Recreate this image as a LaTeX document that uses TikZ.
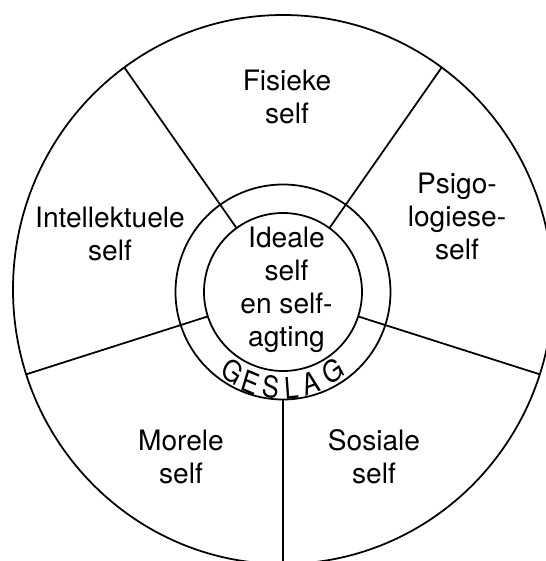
\documentclass[tikz,border=0pt]{standalone}
\usepackage{fontspec}
\setmainfont{TeX Gyre Heros}
\usepackage{tikz}

\tikzset{
  lbl/.style = {align=center, inner sep=0pt, font=\fontsize{16}{18.8}\selectfont},
  ltr/.style = {inner sep=0pt, xscale=0.85, font=\fontsize{17}{17}\selectfont}
}

\begin{document}
\begin{tikzpicture}[line width = 1pt]
\useasboundingbox (-5.66,-5.38) rectangle (5.26,5.84);
% rings
\draw (0,0.05) ellipse (5.40 and 5.49);
\draw (0,0) circle (2.15);
\draw (0,0) circle (1.58);
% spokes
\draw (54:1.58) -- ([yshift=0.5mm]54:5.40 and 5.49);
\draw (126:1.58) -- ([yshift=0.5mm]126:5.40 and 5.49);
\draw (198:1.58) -- ([yshift=0.5mm]198:5.40 and 5.49);
\draw (342:1.58) -- ([yshift=0.5mm]342:5.40 and 5.49);
\draw (270:2.15) -- ([yshift=0.5mm]270:5.40 and 5.49);
% labels
\node [lbl] (fisieke) at (0.08,3.91) {Fisieke\\self};
\node [lbl] (psigo) at (3.48,1.51) {Psigo-\\logiese-\\self};
\node [lbl] (intellek) at (-3.46,1.16) {Intellektuele\\self};
\node [lbl] (ideale) at (0.07,0.04) {Ideale\\self\\en self-\\agting};
\node [lbl] (morele) at (-2.04,-3.29) {Morele\\self};
\node [lbl] (sosiale) at (1.82,-3.29) {Sosiale\\self};
% geslag
\node [ltr, rotate=328] (g1) at (238:1.88) {G};
\node [ltr, rotate=340.5] (g2) at (250.5:1.92) {E};
\node [ltr, rotate=352.8] (g3) at (262.8:1.92) {S};
\node [ltr, rotate=5] (g4) at (275:1.93) {L};
\node [ltr, rotate=17.2] (g5) at (287.2:1.91) {A};
\node [ltr, rotate=32.5] (g6) at (302.5:1.87) {G};
\end{tikzpicture}
\end{document}
